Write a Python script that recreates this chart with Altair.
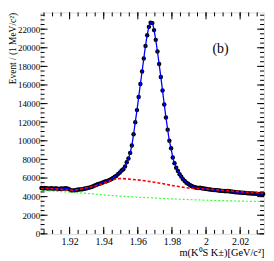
import altair as alt
import pandas as pd

# ---- data ----
mass_start = 1.9035   # first bin centre, GeV/c^2
bin_width = 0.001
counts = [
    4920, 4880, 4920, 4900, 4860, 4880, 4900, 4850, 4890, 4870,
    4830, 4850, 4880, 4860, 4900, 4880, 4820, 4700, 4650, 4660,
    4700, 4740, 4770, 4780, 4800, 4850, 4880, 4920, 4970, 5020,
    5080, 5180, 5250, 5330, 5380, 5450, 5520, 5600, 5650, 5720,
    5800, 5900, 6000, 6150, 6250, 6450, 6600, 6800, 6950, 7250,
    7700, 8100, 8700, 9500, 10700, 12000, 13300, 14700, 16100, 17450,
    18850, 20200, 21350, 22250, 22700, 22650, 21900, 20850, 19600, 18250,
    16850, 15400, 13900, 12500, 11200, 10000, 9200, 8200, 7600, 7100,
    6750, 6400, 6150, 5880, 5680, 5500, 5380, 5250, 5150, 5060,
    5000, 4950, 4930, 4950, 4900, 4870, 4850, 4820, 4780, 4760,
    4730, 4710, 4700, 4680, 4650, 4640, 4620, 4600, 4580, 4600,
    4570, 4550, 4520, 4500, 4480, 4460, 4450, 4430, 4410, 4400,
    4390, 4370, 4350, 4340, 4330, 4320, 4310, 4300, 4290, 4280,
    4280,
]
masses = [round(mass_start + i * bin_width, 4) for i in range(len(counts))]

bkg_red_m = [1.903, 1.910, 1.915, 1.920, 1.925, 1.930, 1.935, 1.940, 1.945, 1.948,
             1.950, 1.955, 1.960, 1.965, 1.970, 1.975, 1.980, 1.985, 1.990, 1.995,
             2.000, 2.010, 2.020, 2.034]
bkg_red_v = [4870, 4850, 4780, 4700, 4760, 4950, 5150, 5420, 5780, 5920,
             5940, 5880, 5800, 5680, 5540, 5380, 5200, 5060, 4920, 4860,
             4820, 4680, 4530, 4400]

bkg_green_m = [1.903, 1.923, 1.943, 1.972, 2.001, 2.034]
bkg_green_v = [4650, 4450, 4140, 3830, 3610, 3470]

x_major = [1.92, 1.94, 1.96, 1.98, 2.00, 2.02]
x_minor = [round(1.905 + 0.005 * i, 3) for i in range(26)]
y_major = list(range(0, 24000, 2000))
y_minor = list(range(0, 24000, 500))

label_m = [2.0085]
label_v = [19900]
label_t = ["(b)"]

X_DOMAIN = [1.903, 2.034]
Y_DOMAIN = [0, 23800]
W, H = 226, 224
FONT = "Liberation Serif"

xs = alt.Scale(domain=X_DOMAIN, nice=False, zero=False)
ys = alt.Scale(domain=Y_DOMAIN, nice=False, zero=False)

df = pd.DataFrame({"m": masses, "n": counts})
df_red = pd.DataFrame({"m": bkg_red_m, "n": bkg_red_v})
df_green = pd.DataFrame({"m": bkg_green_m, "n": bkg_green_v})

x_axis = alt.Axis(values=x_major, format=".3~f", ticks=False, domain=False, grid=False,
                  labelFont=FONT, labelFontSize=10, labelColor="black", labelPadding=3,
                  labelOverlap=False,
                  title="m(K\u2070S K\u00b1)[GeV/c\u00b2]", titleFont=FONT,
                  titleFontSize=10.5, titleFontWeight="normal", titleColor="black",
                  titleAnchor="end", titlePadding=1)
y_axis = alt.Axis(values=y_major, format="d", ticks=False, domain=False, grid=False,
                  labelFont=FONT, labelFontSize=9, labelColor="black", labelPadding=1,
                  labelOverlap=False,
                  title="Event / (1 MeV/c\u00b2)", titleFont=FONT, titleFontSize=9.5,
                  titleFontWeight="normal", titleColor="black", titleAnchor="end",
                  titlePadding=0)

def X(field="m"):
    return alt.X(f"{field}:Q", scale=xs, axis=x_axis)

def Y(field="n"):
    return alt.Y(f"{field}:Q", scale=ys, axis=y_axis)

pts = alt.Chart(df).mark_circle(color="black", size=20, opacity=1).encode(x=X(), y=Y())
blue = alt.Chart(df).mark_line(color="#0000ff", strokeWidth=1.3, interpolate="monotone",
                               clip=True).encode(x=X(), y=Y())
red = alt.Chart(df_red).mark_line(color="#ff0000", strokeDash=[3, 2], strokeWidth=1.6,
                                  interpolate="monotone", clip=True).encode(x=X(), y=Y())
green = alt.Chart(df_green).mark_line(color="#33ff33", strokeDash=[2, 2], strokeWidth=1.2,
                                      interpolate="monotone", clip=True).encode(x=X(), y=Y())

txt = alt.Chart(pd.DataFrame({"m": label_m, "n": label_v, "t": label_t})).mark_text(
    font=FONT, fontSize=14, color="black", align="center", baseline="middle").encode(
    x=X(), y=Y(), text="t:N")

def xticks(vals, length):
    d = pd.DataFrame({"m": vals})
    bot = alt.Chart(d).mark_rule(color="black", strokeWidth=1).encode(
        x=X(), y=alt.value(H), y2=alt.value(H - length))
    top = alt.Chart(d).mark_rule(color="black", strokeWidth=1).encode(
        x=X(), y=alt.value(0), y2=alt.value(length))
    return [bot, top]

def yticks(vals, length):
    d = pd.DataFrame({"n": vals})
    left = alt.Chart(d).mark_rule(color="black", strokeWidth=1).encode(
        y=Y(), x=alt.value(0), x2=alt.value(length))
    right = alt.Chart(d).mark_rule(color="black", strokeWidth=1).encode(
        y=Y(), x=alt.value(W), x2=alt.value(W - length))
    return [left, right]

tick_layers = xticks(x_major, 7) + xticks(x_minor, 4) + yticks(y_major, 7) + yticks(y_minor, 4)

chart = alt.layer(pts, blue, red, green, txt, *tick_layers).properties(
    width=W, height=H,
    autosize=alt.AutoSizeParams(type="none"),
    padding={"left": 33, "top": 3, "right": 2, "bottom": 26},
).configure_view(stroke="black", strokeWidth=1).configure(background="white")

chart.save("out.html", embed_options={"renderer": "svg", "actions": False})
